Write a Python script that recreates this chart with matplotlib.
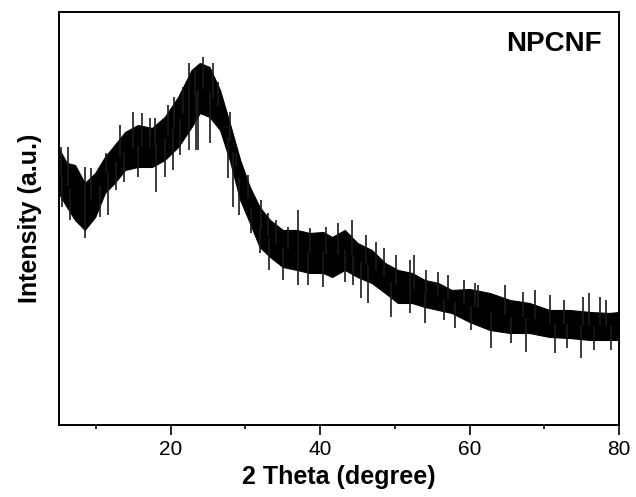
import matplotlib.pyplot as plt
import numpy as np

two_theta = [5.0, 6.1, 7.2, 8.5, 9.9, 11.2, 12.5, 13.9, 15.6, 17.5,
             19.2, 21.0, 22.8, 23.9, 25.2, 26.6, 27.9, 29.3, 30.6, 31.9,
             33.3, 35.0, 36.9, 38.6, 40.4, 41.6, 43.3, 45.0, 46.9, 48.7,
             50.4, 52.3, 54.0, 55.8, 57.6, 60.0, 62.7, 65.4, 68.0, 70.7,
             73.4, 76.1, 78.7, 80.0]
band_top = [277, 262, 260, 242, 252, 268, 280, 293, 300, 297,
            308, 328, 355, 362, 358, 335, 302, 265, 238, 218,
            205, 195, 195, 192, 193, 188, 195, 182, 175, 162,
            155, 152, 145, 142, 135, 136, 132, 125, 122, 115,
            115, 113, 112, 113]
band_bottom = [232, 218, 205, 195, 208, 232, 242, 255, 258, 258,
               265, 278, 298, 312, 308, 295, 265, 225, 202, 178,
               168, 158, 155, 152, 152, 148, 155, 148, 142, 132,
               122, 122, 118, 115, 112, 103, 95, 92, 92, 88,
               87, 85, 85, 85]

# the tallest noise spikes above the band
spike_up_x = [5.36, 6.26, 8.49, 9.4, 11.4, 13.2, 14.95, 16.1, 17.2, 17.85,
              19.6, 20.5, 21.6, 22.5, 23.2, 24.3, 25.65, 26.3, 27.9, 28.8,
              30.3, 32.1, 33.0, 34.1, 35.7, 37.0, 38.6, 40.8, 42.4, 44.2,
              46.2, 47.5, 48.6, 50.2, 52.0, 52.6, 54.2, 55.8, 57.1, 59.3,
              60.7, 61.1, 64.7, 67.1, 68.7, 70.7, 72.7, 75.2, 76.0, 77.4,
              78.3]
spike_up_y = [278, 278, 258, 257, 272, 300, 313, 312, 307, 307,
              320, 328, 338, 362, 355, 368, 362, 343, 313, 272,
              250, 225, 212, 205, 198, 215, 197, 198, 202, 205,
              190, 183, 177, 170, 165, 170, 155, 153, 150, 145,
              142, 140, 140, 133, 135, 130, 125, 128, 132, 128,
              125]
# the deepest noise spikes below the band
spike_down_x = [5.45, 6.5, 8.5, 10.5, 11.6, 12.7, 13.8, 15.6, 18.1, 19.2,
                20.3, 21.2, 22.5, 23.4, 23.65, 25.2, 27.7, 28.3, 29.2, 30.8,
                31.9, 33.2, 35.0, 37.0, 38.4, 40.4, 43.3, 44.4, 45.5, 46.4,
                49.5, 52.0, 54.0, 56.6, 58.0, 60.2, 62.9, 65.6, 67.6, 71.4,
                73.1, 74.9, 76.7, 78.9]
spike_down_y = [218, 205, 187, 208, 210, 235, 243, 248, 233, 248,
                255, 270, 275, 275, 275, 282, 247, 218, 210, 192,
                172, 155, 145, 140, 140, 138, 143, 140, 127, 122,
                108, 112, 102, 105, 97, 95, 77, 82, 73, 72,
                77, 67, 75, 75]

plt.rcParams['font.family'] = ['Liberation Sans', 'DejaVu Sans']

fig = plt.figure(figsize=(6.36, 4.97), dpi=100)
ax = fig.add_axes([0.0921, 0.1449, 0.8812, 0.831])

ax.fill_between(two_theta, band_bottom, band_top, color='black', lw=0.8)

mid = (np.array(band_top) + np.array(band_bottom)) / 2
ax.vlines(spike_up_x, np.interp(spike_up_x, two_theta, mid), spike_up_y,
          color='0.1', lw=1.2)
ax.vlines(spike_down_x, spike_down_y, np.interp(spike_down_x, two_theta, mid),
          color='0.1', lw=1.2)

ax.set_xlim(5, 80)
ax.set_ylim(0, 413)
ax.set_xticks([20, 40, 60, 80])
ax.set_xticks([10, 30, 50, 70], minor=True)
ax.set_yticks([])
ax.tick_params(axis='x', which='major', direction='out', length=7, width=1.2, labelsize=15, pad=4)
ax.tick_params(axis='x', which='minor', direction='out', length=3, width=1.2)
for s in ax.spines.values():
    s.set_linewidth(1.4)

ax.set_xlabel('2 Theta (degree)', fontsize=18, fontweight='bold', labelpad=4)
ax.set_ylabel('Intensity (a.u.)', fontsize=18, fontweight='bold', labelpad=12)
ax.text(0.97, 0.955, 'NPCNF', transform=ax.transAxes, ha='right', va='top',
        fontsize=20, fontweight='bold')

plt.savefig('out.png', dpi=100)
